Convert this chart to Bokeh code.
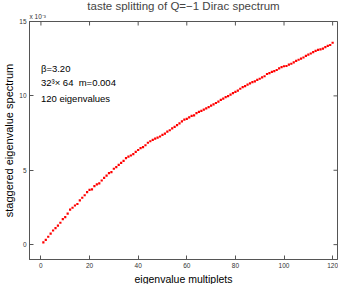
import math
from bokeh.plotting import figure
from bokeh.models import Label, FixedTicker, Range1d, ColumnDataSource, Title
from bokeh.embed import file_html
from bokeh.resources import INLINE

# eigenvalue multiplet index
multiplet = list(range(1, 121))
# staggered eigenvalue spectrum (units of 1e-3)
spectrum = [
    0.15, 0.32, 0.53, 0.74, 0.95, 1.11, 1.28, 1.47, 1.72, 1.85,
    2.08, 2.35, 2.48, 2.63, 2.73, 2.98, 3.15, 3.32, 3.53, 3.68,
    3.72, 3.93, 4.05, 4.12, 4.31, 4.49, 4.64, 4.81, 4.87, 5.10,
    5.21, 5.36, 5.50, 5.63, 5.82, 5.92, 5.99, 6.09, 6.24, 6.36,
    6.49,
    6.55, 6.68, 6.85, 6.95, 7.04, 7.12, 7.19, 7.27, 7.38, 7.46,
    7.59, 7.69, 7.82, 7.92, 8.03, 8.15, 8.28, 8.40, 8.46, 8.55,
    8.65, 8.69, 8.84, 8.93, 8.99, 9.07, 9.16, 9.24, 9.35, 9.43,
    9.52, 9.62, 9.73, 9.81, 9.92, 9.98, 10.08,
    10.19, 10.27, 10.35, 10.48, 10.59, 10.65, 10.75, 10.84, 10.92, 10.98,
    11.07, 11.15, 11.24, 11.32, 11.47, 11.53, 11.62, 11.66, 11.74, 11.85,
    11.93, 11.99, 12.01, 12.10, 12.16, 12.25, 12.35, 12.43, 12.50, 12.58,
    12.69, 12.77, 12.85, 12.94, 13.02, 13.09, 13.13, 13.17, 13.28, 13.36,
    13.42, 13.57,
]
x_ticks = [0, 20, 40, 60, 80, 100, 120]
y_ticks = [0, 5, 10, 15]
X0, X1, Y0, Y1 = -4.7, 122, -1, 15

FONT = "Liberation Sans"
AX = "#555555"

p = figure(width=338, height=284, x_range=Range1d(X0, X1), y_range=Range1d(Y0, Y1),
           output_backend="svg", toolbar_location=None, min_border=1,
           min_border_left=1, min_border_right=1, min_border_top=1, min_border_bottom=1)
p.title.text = "taste splitting of Q=\u22121 Dirac spectrum"
p.title.align = "center"
p.title.text_font = FONT
p.title.text_font_size = "11.5px"
p.title.text_font_style = "normal"
p.title.standoff = -6
p.grid.visible = False
p.outline_line_color = AX

t10 = Title(text="x 10\u207b\u00b3", align="left", text_font=FONT, text_font_size="6.5px",
            text_color="#333333", text_font_style="normal", standoff=4)
p.above.insert(0, t10)

src = ColumnDataSource(dict(x=multiplet, y=spectrum))
p.scatter("x", "y", source=src, marker="square", size=2.2, color="#ff0000", line_width=0)

# inward ticks on the top and right edges of the box
p.ray(x=x_ticks, y=[Y1] * len(x_ticks), length=4, length_units="screen",
      angle=-math.pi / 2, line_color=AX, line_width=1)
p.ray(x=[X1] * len(y_ticks), y=y_ticks, length=4, length_units="screen",
      angle=math.pi, line_color=AX, line_width=1)

for ax in (p.xaxis[0], p.yaxis[0]):
    ax.major_tick_in = 4
    ax.major_tick_out = 0
    ax.minor_tick_in = 0
    ax.minor_tick_out = 0
    ax.axis_line_color = AX
    ax.major_tick_line_color = AX
    ax.major_label_text_font = FONT
    ax.major_label_text_color = "#333333"
    ax.major_label_text_font_size = "6.5px"
    ax.major_label_standoff = 3
    ax.axis_label_text_font = FONT
    ax.axis_label_text_font_style = "normal"
    ax.axis_label_text_font_size = "11px"
    ax.axis_label_text_color = "black"
    ax.axis_label_standoff = 1

p.xaxis.ticker = FixedTicker(ticks=x_ticks)
p.yaxis.ticker = FixedTicker(ticks=y_ticks)
p.yaxis.axis_label = "staggered eigenvalue spectrum"

xlab = Title(text="eigenvalue multiplets", align="center", text_font=FONT, text_font_size="10.5px",
             text_color="black", text_font_style="normal", standoff=0)
p.add_layout(xlab, "below")

for txt, yy in [("\u03b2=3.20", 11.85), ("32\u00b3\u00d7 64 \u00a0m=0.004", 10.9), ("120 eigenvalues", 9.8)]:
    p.add_layout(Label(x=0, y=yy, text=txt, text_font=FONT, text_font_size="9.5px",
                       text_baseline="middle", text_color="black"))

open("out.html", "w").write(file_html(p, INLINE))
